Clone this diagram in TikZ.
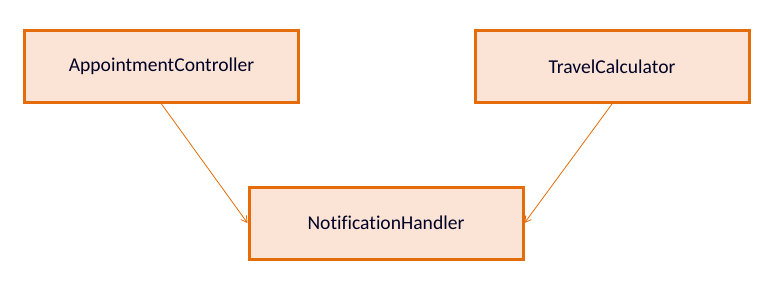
\documentclass[tikz,border=0pt]{standalone}
\usepackage{fontspec}
\setmainfont[Ligatures=CommonOff]{Carlito}
\usetikzlibrary{arrows.meta}
\definecolor{clsorange}{HTML}{E46C0A}
\definecolor{clsfill}{HTML}{FBE4D5}
\begin{document}
\begin{tikzpicture}[
    x=1pt, y=-1pt,
    classbox/.style={rectangle, draw=clsorange, line width=3pt, fill=clsfill, minimum width=274pt, minimum height=72pt, font=\fontsize{19.6}{23}\selectfont, text=black!85!blue},
    uses/.style={-{Straight Barb[length=6pt, width=7pt]}, line width=0.8pt, color=clsorange}
]
    \useasboundingbox (0,0) rectangle (774,293);

    % Klassen oben
    \node[classbox] (appointment) at (161.5, 66.5) {AppointmentController};
    \node[classbox] (travel) at (612, 66.5) {TravelCalculator};

    % Klasse unten
    \node[classbox] (notification) at (386, 223) {NotificationHandler};

    % Abhaengigkeiten
    \draw[uses] (appointment.south) -- (notification.west);
    \draw[uses] (travel.south) -- (notification.east);

\end{tikzpicture}
\end{document}
